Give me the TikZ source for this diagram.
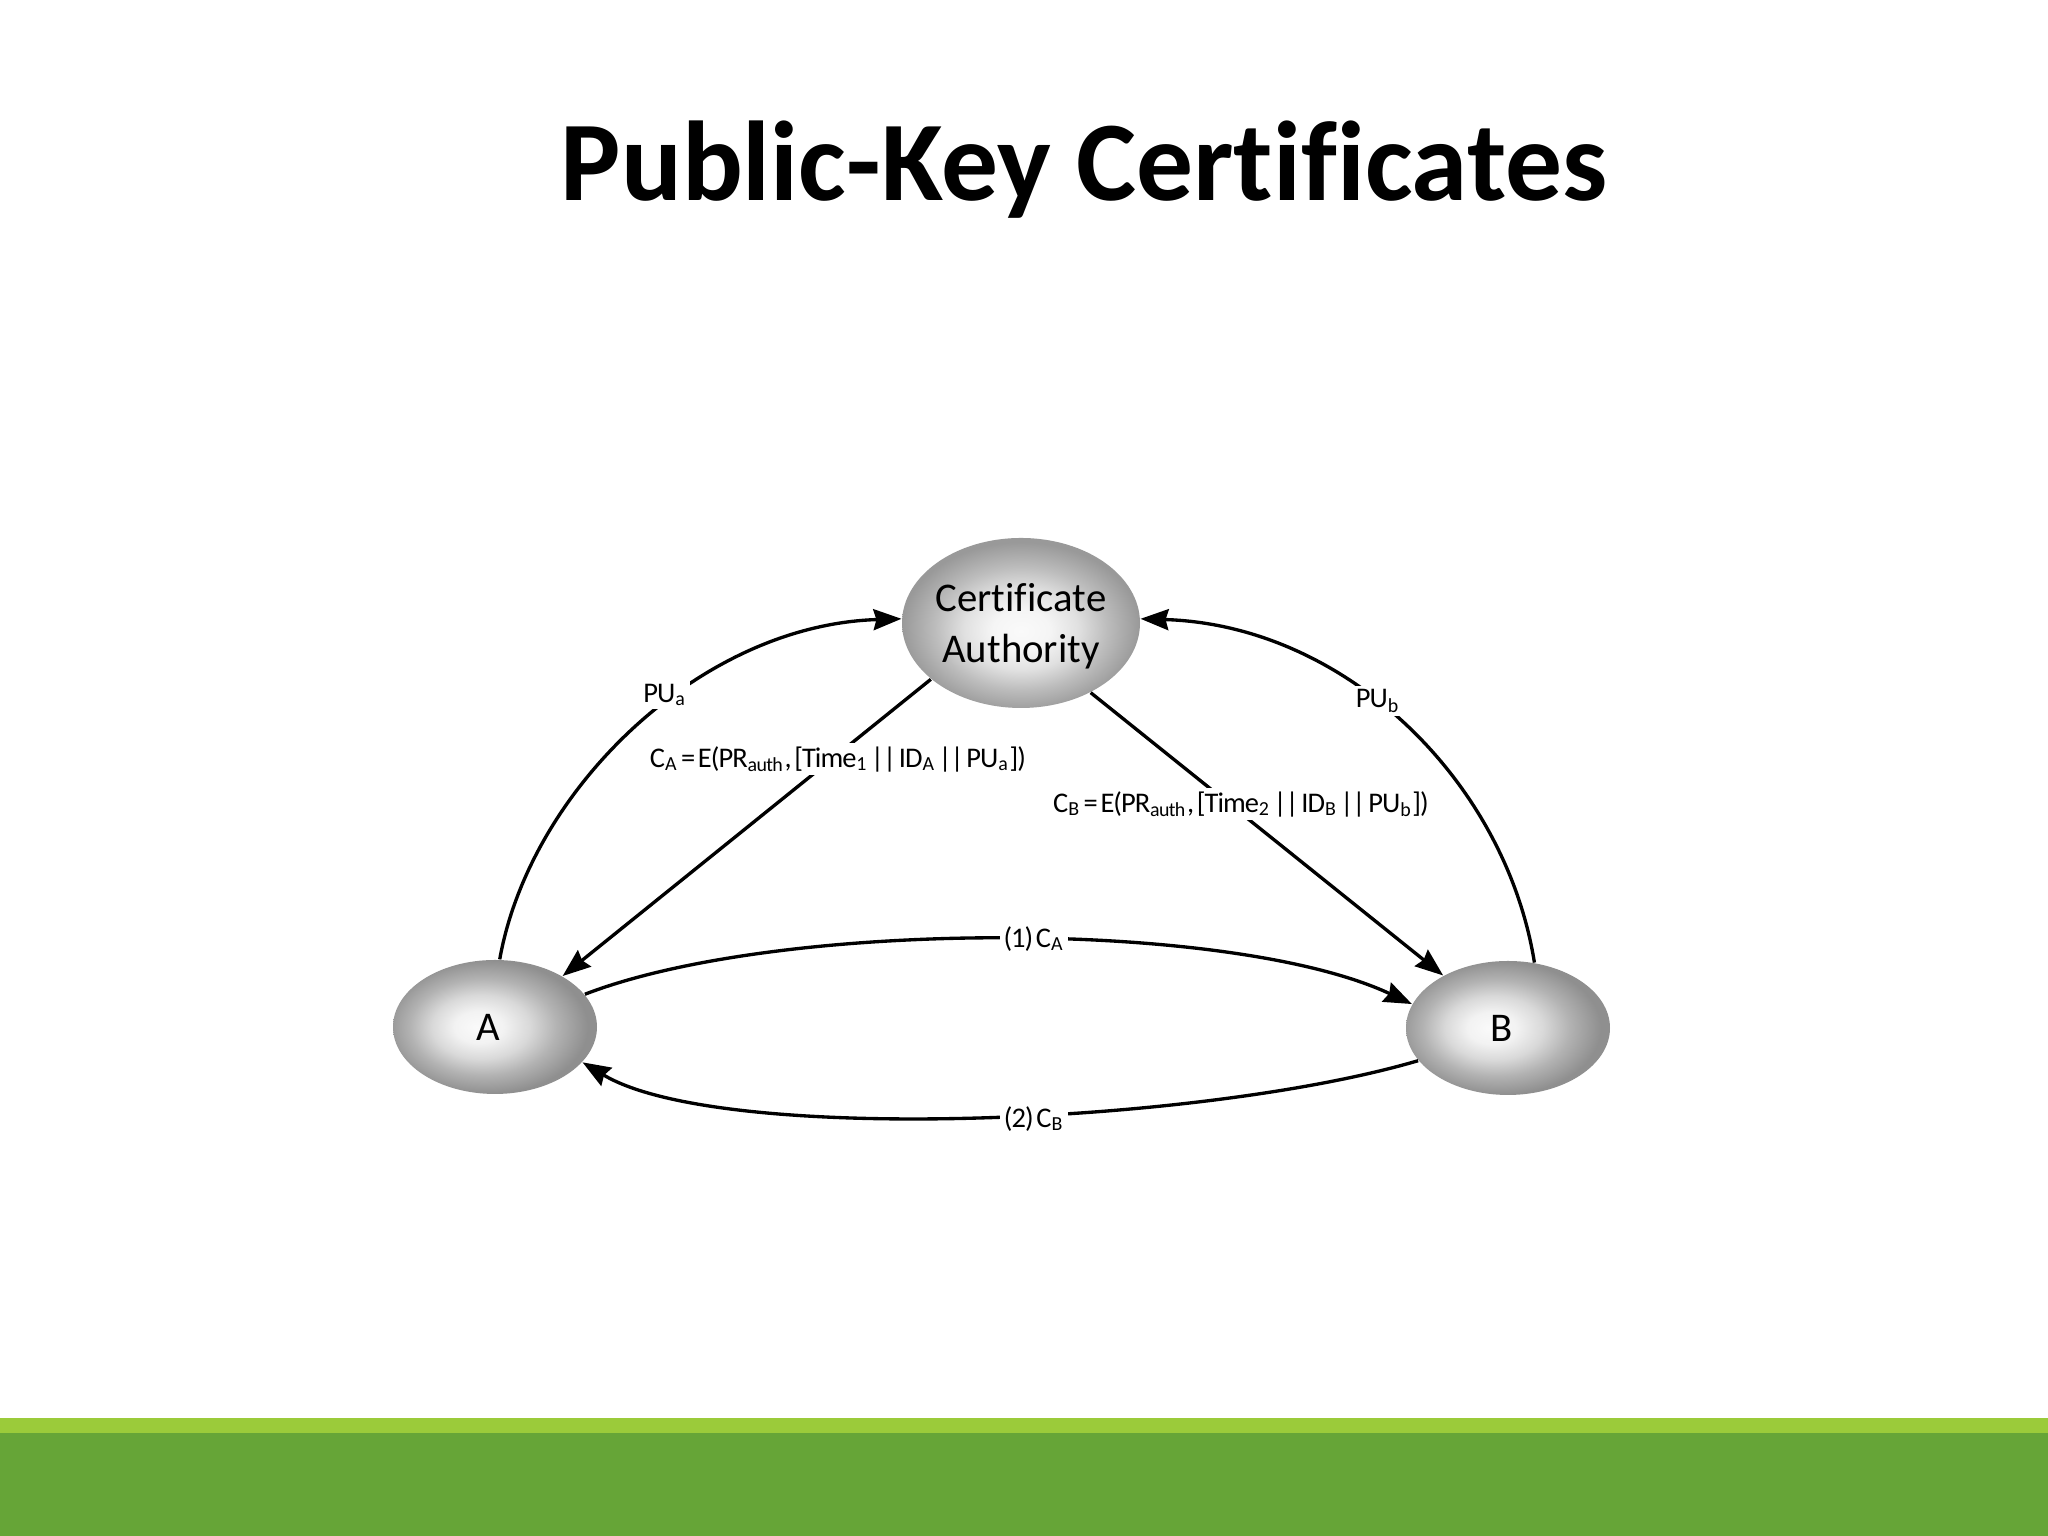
\documentclass[tikz,border=0pt]{standalone}
\usepackage{fontspec}
\setmainfont{Carlito}[Ligatures=NoCommon]
\newfontfamily\msgfont{Carlito}[Ligatures=NoCommon, WordSpace=0.5, LetterSpace=-3.5]
\usetikzlibrary{shapes.geometric, arrows.meta}
\definecolor{barlime}{RGB}{155, 203, 58}
\definecolor{bargreen}{RGB}{102, 165, 55}
\pgfdeclareradialshading{ballmid}{\pgfpoint{0bp}{-2.5bp}}{
  color(0bp)=(black!2);
  color(6bp)=(black!4);
  color(12bp)=(black!12);
  color(18bp)=(black!26);
  color(25bp)=(black!40);
  color(50bp)=(black!40)}
\pgfdeclareradialshading{ballleft}{\pgfpoint{-4.5bp}{0bp}}{
  color(0bp)=(black!2);
  color(6bp)=(black!5);
  color(12bp)=(black!15);
  color(18bp)=(black!30);
  color(25bp)=(black!44);
  color(50bp)=(black!44)}
\tikzset{
  party/.style={ellipse, inner sep=-2pt, align=center, font=\fontsize{11.6}{14.4}\selectfont},
  conn/.style={line width=0.95pt, -{Stealth[length=2.8mm, width=2.1mm, inset=0.3mm]}},
  msg/.style={fill=white, inner sep=1pt, font=\msgfont\fontsize{8.1}{10}\selectfont}
}
\newcommand{\sbt}[1]{\textsubscript{#1}}
\newcommand{\dbar}{|\kern-0.3pt|}

\begin{document}
\begin{tikzpicture}
  \useasboundingbox (0, 0) rectangle (20.48, 15.36);
  \fill[white] (0, 0) rectangle (20.48, 15.36);

  % Bottom bars
  \fill[bargreen] (0, 0) rectangle (20.48, 1.03);
  \fill[barlime] (0, 1.03) rectangle (20.48, 1.18);

  % Title
  \node[font=\fontsize{32.3}{38}\selectfont\bfseries] (title) at (10.84, 13.66) {Public-Key Certificates};

  % Parties
  \node[party, shading=ballmid, minimum width=2.38cm, minimum height=1.70cm] (ca) at (10.21, 9.13) {\rule{0pt}{9.7pt}Certificate\\Authority};
  \node[party, shading=ballleft, minimum width=2.04cm, minimum height=1.34cm] (a) at (4.95, 5.09) {A\kern 0.13cm};
  \node[party, shading=ballleft, minimum width=2.04cm, minimum height=1.34cm] (b) at (15.08, 5.08) {B\kern 0.13cm};

  % Arrows
  \draw[conn] (a.86) .. controls (5.30, 7.46) and (7.00, 9.11) .. (ca.178);
  \draw[conn] (b.68) .. controls (15.05, 7.56) and (13.45, 9.11) .. (ca.2);
  \draw[conn] (ca.212) -- (a.37);
  \draw[conn] (ca.-45) -- (b.141);
  \draw[conn] (a.20) .. controls (7.80, 6.17) and (12.30, 6.17) .. (b.166);
  \draw[conn] (b.200) .. controls (12.00, 4.11) and (7.20, 3.91) .. (a.338);

  % Labels
  \node[msg] (pua) at (6.65, 8.41) {PU\sbt{a}};
  \node[msg] (pub) at (13.78, 8.35) {PU\sbt{b}};
  \node[msg] (certa) at (8.38, 7.77) {C\sbt{A} = E(PR\sbt{auth}, [Time\sbt{1} \dbar{} ID\sbt{A} \dbar{} PU\sbt{a}])};
  \node[msg] (certb) at (12.41, 7.32) {C\sbt{B} = E(PR\sbt{auth}, [Time\sbt{2} \dbar{} ID\sbt{B} \dbar{} PU\sbt{b}])};
  \node[msg] (stepone) at (10.34, 5.97) {(1) C\sbt{A}};
  \node[msg] (steptwo) at (10.34, 4.17) {(2) C\sbt{B}};
\end{tikzpicture}
\end{document}
